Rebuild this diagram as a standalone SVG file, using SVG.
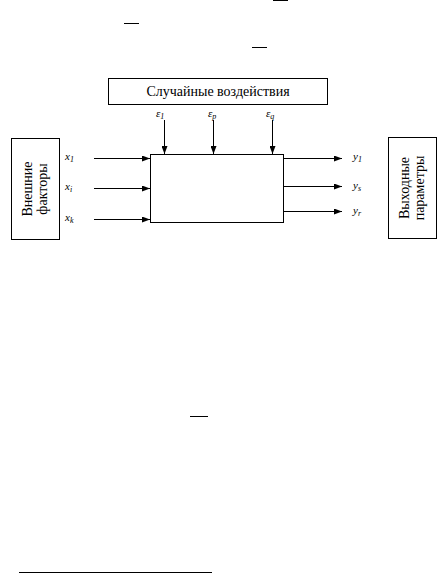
<svg xmlns="http://www.w3.org/2000/svg" width="442" height="573" viewBox="0 0 442 573">
<defs>
<marker id="ah" viewBox="0 0 8 6" refX="8" refY="3" markerWidth="8" markerHeight="6" markerUnits="userSpaceOnUse" orient="auto">
<path d="M0,0 L8,3 L0,6 Z" fill="#000"/>
</marker>
</defs>
<style>
.box{fill:#fff;stroke:#000;stroke-width:1}
.lbl{font-size:14px;fill:#000}
.var{font-size:11px;font-style:italic;fill:#000}
.sub{font-size:8px}
.conn line{stroke:#000;stroke-width:1;marker-end:url(#ah)}
.rule{stroke:#000;stroke-width:1}
</style>
<rect width="442" height="573" fill="#fff"/>
<line class="rule" x1="273" y1="0.5" x2="288" y2="0.5"/>
<line class="rule" x1="124" y1="23.5" x2="139" y2="23.5"/>
<line class="rule" x1="252" y1="47.5" x2="267" y2="47.5"/>
<line class="rule" x1="190" y1="416.5" x2="208" y2="416.5"/>
<line class="rule" x1="19" y1="572.5" x2="212" y2="572.5"/>

<g font-family="'Liberation Serif', 'Times New Roman', 'DejaVu Serif', serif">
<g id="random">
<rect class="box" x="108.5" y="78.5" width="219" height="26"/>
<text class="lbl" x="218" y="96" text-anchor="middle">Случайные воздействия</text>
</g>
<g id="external">
<rect class="box" x="11.5" y="138.5" width="48" height="101"/>
<text class="lbl" transform="translate(35,189) rotate(-90)" text-anchor="middle"><tspan x="0" y="-3">Внешние</tspan><tspan x="0" y="12">факторы</tspan></text>
</g>
<g id="output">
<rect class="box" x="388.5" y="137.5" width="48" height="101"/>
<text class="lbl" transform="translate(412,188) rotate(-90)" text-anchor="middle"><tspan x="0" y="-3">Выходные</tspan><tspan x="0" y="12">параметры</tspan></text>
</g>
<g id="system">
<rect class="box" x="150.5" y="154.5" width="133" height="68"/>
</g>
<g id="labels">
<text class="var" x="156" y="117">ε<tspan class="sub" dy="2">1</tspan></text>
<text class="var" x="208" y="117">ε<tspan class="sub" dy="2">p</tspan></text>
<text class="var" x="266" y="117">ε<tspan class="sub" dy="2">q</tspan></text>
<text class="var" x="65" y="160">x<tspan class="sub" dy="2">1</tspan></text>
<text class="var" x="65" y="190">x<tspan class="sub" dy="2">i</tspan></text>
<text class="var" x="65" y="221">x<tspan class="sub" dy="2">k</tspan></text>
<text class="var" x="353" y="160">y<tspan class="sub" dy="2">1</tspan></text>
<text class="var" x="353" y="189">y<tspan class="sub" dy="2">s</tspan></text>
<text class="var" x="353" y="214">y<tspan class="sub" dy="2">r</tspan></text>
</g>
</g>
<g class="conn" id="connectors">
<line x1="164.5" y1="120" x2="164.5" y2="154"/>
<line x1="213.5" y1="120" x2="213.5" y2="154"/>
<line x1="272.5" y1="120" x2="272.5" y2="154"/>
<line x1="94" y1="158.5" x2="150" y2="158.5"/>
<line x1="94" y1="188.5" x2="150" y2="188.5"/>
<line x1="94" y1="219.5" x2="150" y2="219.5"/>
<line x1="284" y1="158.5" x2="342" y2="158.5"/>
<line x1="284" y1="186.5" x2="342" y2="186.5"/>
<line x1="284" y1="211.5" x2="342" y2="211.5"/>
</g>
</svg>
